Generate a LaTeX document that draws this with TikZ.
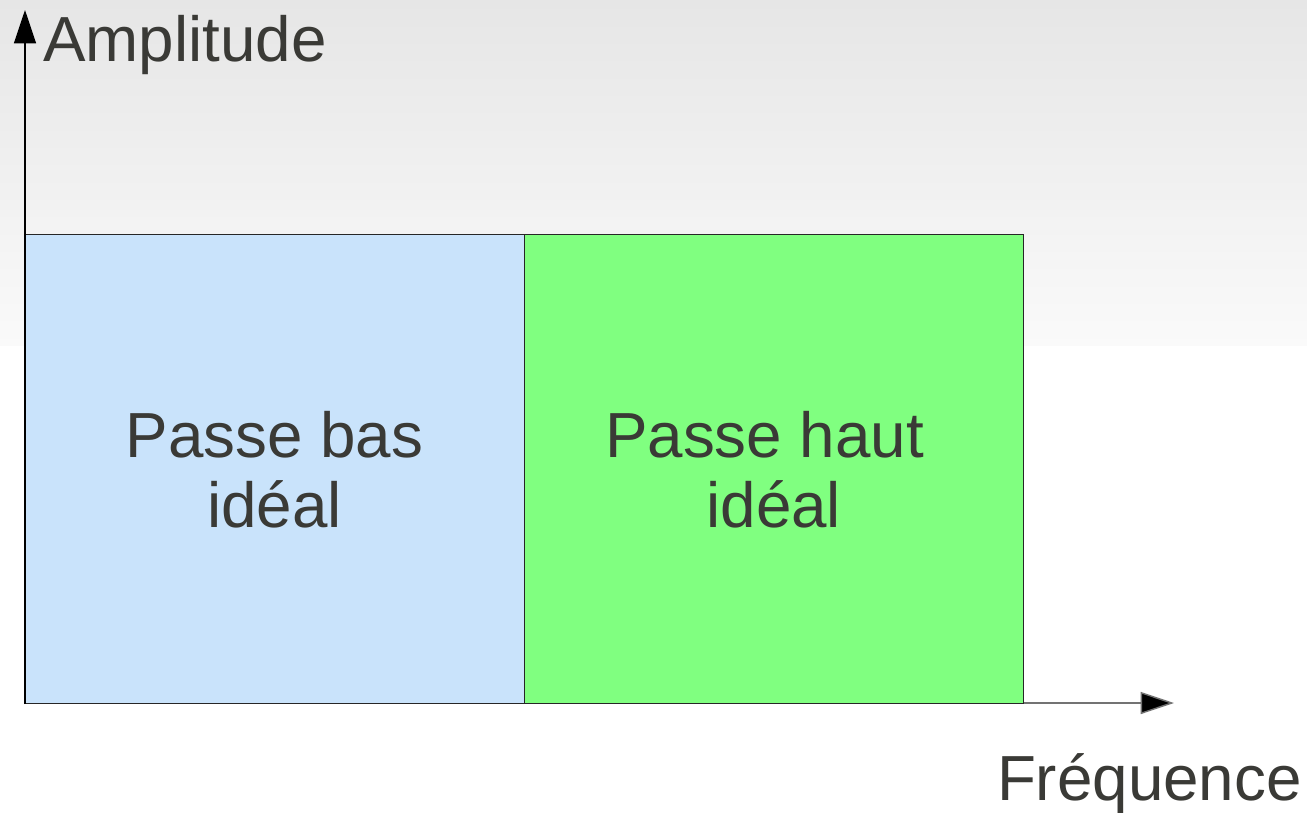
\documentclass[tikz,border=0pt]{standalone}
\usepackage{fontspec}
\setmainfont{Liberation Sans}
\usetikzlibrary{arrows.meta}
\definecolor{txt}{HTML}{3A3A36}
\definecolor{lowblue}{HTML}{C9E3FB}
\definecolor{highgreen}{HTML}{80FF80}
\definecolor{bgtop}{HTML}{E6E6E6}
\tikzset{
  band/.style={draw=black!85, line width=0.9pt},
  label/.style={text=txt, font=\fontsize{47.8}{52.5}\selectfont, inner sep=0pt, align=center},
  axis/.style={line width=1.1pt, -{Triangle[length=25pt,width=16.5pt,fill=black]}},
}
\begin{document}
\begin{tikzpicture}[x=0.75pt,y=-0.75pt]
\useasboundingbox (0,0) rectangle (1307,813);
\fill[white] (0,0) rectangle (1307,813);
\shade[top color=bgtop, bottom color=white!98!black] (0,0) rectangle (1307,345);
% axes
\coordinate (o) at (25,703);
\coordinate (ytip) at (25,10);
\coordinate (xtip) at (1174,703);
\draw[axis, draw=black!55] (o) -- (xtip);
\draw[axis, black] (o) -- (ytip);
% boxes
\node[band, fill=lowblue, minimum width=499*0.75pt, minimum height=469*0.75pt, inner sep=0pt, anchor=north west] (low) at (25,234) {};
\node[band, fill=highgreen, minimum width=499*0.75pt, minimum height=469*0.75pt, inner sep=0pt, anchor=north west] (high) at (524,234) {};
\draw[black, line width=1.1pt] (low.south west) -- (low.north west);
% labels
\node[label, anchor=base west] (amp) at (43,62) {Amplitude};
\node[label, anchor=base east] (freq) at (1302,800) {Fréquence};
\node[label, anchor=base] (lowt) at (274.5,527) {Passe bas\\idéal};
\node[label, anchor=base] (hight) at (764.5,527) {Passe haut\\\hspace*{14pt}idéal};
\end{tikzpicture}
\end{document}
